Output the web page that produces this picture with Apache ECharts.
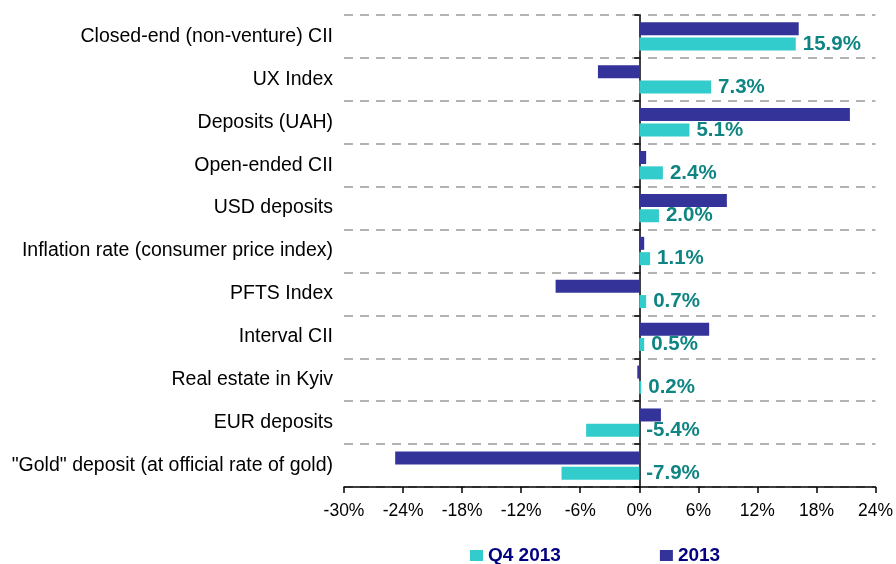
<!DOCTYPE html>
<html>
<head>
<meta charset="utf-8">
<script src="https://cdn.jsdelivr.net/npm/echarts@6/dist/echarts.min.js"></script>
<style>
html,body{margin:0;padding:0;background:#fff;}
#main{width:896px;height:564px;}
</style>
</head>
<body>
<div id="main"></div>
<script>
// categories top -> bottom
var cats=['Closed-end (non-venture) CII','UX Index','Deposits (UAH)','Open-ended CII','USD deposits','Inflation rate (consumer price index)','PFTS Index','Interval CII','Real estate in Kyiv','EUR deposits','"Gold" deposit (at official rate of gold)'];
var q4=[15.9,7.3,5.1,2.4,2.0,1.1,0.7,0.5,0.2,-5.4,-7.9];
var y2013=[16.2,-4.2,21.4,0.7,8.9,0.5,-8.5,7.1,-0.2,2.2,-24.8];
var xTicks=[-30,24,6]; // min, max, step

var myChart=echarts.init(document.getElementById('main'));
var font='Liberation Sans, Arial';

var option={
	animation:false,
	grid:{left:344,right:17,top:15,bottom:77},
	legend:{
		left:465,top:541,
		icon:'rect',
		itemWidth:13,itemHeight:11,itemGap:99,
		data:['Q4 2013','2013'],
		textStyle:{color:'#000080',fontWeight:'bold',fontSize:19,fontFamily:font}
	},
	xAxis:{
		type:'value',min:xTicks[0],max:xTicks[1],interval:xTicks[2],
		axisLine:{show:true,onZero:false,lineStyle:{color:'#000',width:1.5}},
		axisTick:{show:true,length:6,lineStyle:{color:'#000',width:1.5}},
		axisLabel:{formatter:'{value}%',color:'#000',fontSize:17.5,margin:15,fontFamily:font},
		splitLine:{show:false}
	},
	yAxis:[{
		type:'category',inverse:true,data:cats,position:'left',
		axisLine:{show:false,onZero:false},
		axisTick:{show:false},
		axisLabel:{color:'#000',fontSize:19.5,margin:11,fontFamily:font},
		splitLine:{show:true,lineStyle:{color:'#9a9a9a',type:[9,7],width:1.5}}
	},{
		//zero line with ticks
		type:'category',inverse:true,data:cats,position:'left',
		axisLine:{show:true,onZero:true,lineStyle:{color:'#000',width:1.5}},
		axisTick:{show:true,length:5,lineStyle:{color:'#000',width:1.5}},
		axisLabel:{show:false},
		splitLine:{show:false}
	}],
	series:[{
		name:'2013',type:'bar',data:y2013,
		barWidth:13,barGap:'18%',
		itemStyle:{color:'#333399'}
	},{
		name:'Q4 2013',type:'bar',data:q4,
		barWidth:13,
		itemStyle:{color:'#33CCCC'},
		label:{
			show:true,position:'right',distance:7,
			formatter:function(p){return p.value.toFixed(1)+'%';},
			color:'#0f8583',fontWeight:'bold',fontSize:20.5,fontFamily:font
		}
	}]
};
myChart.setOption(option);
</script>
</body>
</html>
